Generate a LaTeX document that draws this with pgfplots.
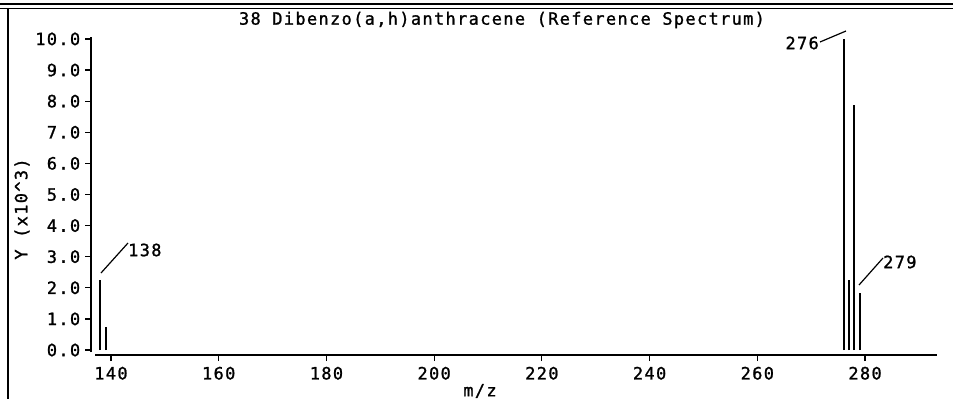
\documentclass[border=0pt]{standalone}
\usepackage{fontspec}
\setmainfont{DejaVu Sans Mono}[LetterSpace=8,FakeBold=1.2]
\usepackage{pgfplots}
\pgfplotsset{compat=1.18}
\begin{document}
\fontsize{17}{19}\selectfont
\begin{tikzpicture}[x=1bp,y=1bp]
\useasboundingbox (0,0) rectangle (953,399);
\fill[white] (0,0) rectangle (953,399);
\draw[line width=2bp] (0,395) -- (953,395);
\draw[line width=1bp] (0,390) -- (953,390);
\draw[line width=1.5bp] (8,390) -- (8,0);
\begin{axis}[at={(91bp,44bp)}, anchor=south west, scale only axis,
  width=846bp, height=317.6bp,
  xmin=136.29, xmax=293.36, ymin=-0.16, ymax=10.05,
  axis x line*=bottom, axis y line*=left,
  axis line style={-, line width=1.3bp},
  x axis line style={shorten <=4bp},
  y axis line style={shorten <=3bp},
  tick align=outside, major tick length=6bp,
  tick style={line width=1.2bp, black},
  xtick={140,160,...,280}, ytick={0,1,...,10},
  ticklabel style={font=\fontsize{17}{19}\selectfont},
  yticklabel style={xshift=1bp},
  /pgf/number format/assume math mode=true,
  yticklabel={\pgfmathprintnumber[fixed,fixed zerofill,precision=1]{\tick}},
  xticklabel={\pgfmathprintnumber[int detect]{\tick}},
  clip=false,
]
\addplot[ycomb, line width=2bp, black, mark=none] coordinates {
(138,2.25) (139,0.74) (276,10.0) (277,2.25) (278,7.88) (279,1.83)};
\end{axis}
\draw[line width=1.2bp] (101,126) -- (128,156);
\node[anchor=west, inner sep=0pt] at (128,149) {138};
\draw[line width=1.2bp] (820,357) -- (846,368);
\node[anchor=east, inner sep=0pt] at (819,356) {276};
\draw[line width=1.2bp] (859,114) -- (883,141);
\node[anchor=west, inner sep=0pt] at (883,137) {279};
\node[inner sep=0pt] at (502,379) {38 Dibenzo(a,h)anthracene (Reference Spectrum)};
\node[inner sep=0pt] at (480,8) {m/z};
\node[inner sep=0pt, rotate=90] at (22,190) {Y (x10\^{}3)};
\end{tikzpicture}
\end{document}
